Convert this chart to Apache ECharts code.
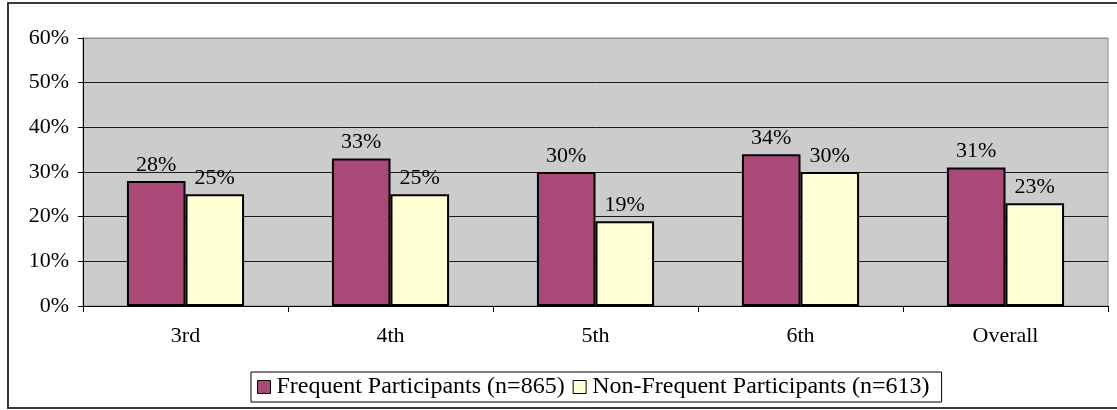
<!DOCTYPE html>
<html>
<head>
<meta charset="utf-8">
<script src="https://cdn.jsdelivr.net/npm/echarts@6/dist/echarts.min.js"></script>
<style>
  html, body { margin: 0; padding: 0; background: #ffffff; }
  #chart { width: 1117px; height: 410px; }
</style>
</head>
<body>
<div id="chart"></div>
<script>
// Share of students by grade, two participant groups (percent)
const grades = ['3rd', '4th', '5th', '6th', 'Overall'];
const frequentName = 'Frequent Participants (n=865)';
const nonFrequentName = 'Non-Frequent Participants (n=613)';
const frequentValues = [28, 33, 30, 34, 31];
const nonFrequentValues = [25, 25, 19, 30, 23];
const yTicks = { min: 0, max: 60, interval: 10 };

const FONT = 'Liberation Serif';
const textBase = { fontFamily: FONT, fontSize: 22, color: '#000' };

const chart = echarts.init(document.getElementById('chart'), null, { renderer: 'canvas' });

const barLabel = {
  show: true,
  position: 'top',
  distance: 5,
  formatter: '{c}%',
  ...textBase
};

chart.setOption({
  animation: false,
  backgroundColor: '#ffffff',
  graphic: [{
    type: 'rect',
    shape: { x: 8, y: 3, width: 1120, height: 405 },
    style: { fill: 'none', stroke: '#3a3a3a', lineWidth: 2 },
    silent: true,
    z: 100
  }],
  grid: {
    left: 83, right: 9, top: 38, bottom: 104,
    show: true,
    backgroundColor: '#cccccc',
    borderColor: '#8c8c8c',
    borderWidth: 1
  },
  legend: {
    left: 251,
    top: 372,
    orient: 'horizontal',
    padding: [2, 12, 2, 6],
    itemGap: 8,
    itemWidth: 15,
    itemHeight: 13,
    borderColor: '#000',
    borderWidth: 1,
    icon: 'path://M0,0H13V13H0Z',
    itemStyle: { borderColor: '#000', borderWidth: 1 },
    textStyle: { ...textBase, fontSize: 24, lineHeight: 26 },
    data: [frequentName, nonFrequentName]
  },
  xAxis: {
    type: 'category',
    data: grades,
    axisLine: { lineStyle: { color: '#000', width: 1 } },
    axisTick: { show: true, length: 6, lineStyle: { color: '#000' } },
    axisLabel: { margin: 19, ...textBase },
    splitLine: { show: false }
  },
  yAxis: {
    type: 'value',
    min: yTicks.min,
    max: yTicks.max,
    interval: yTicks.interval,
    axisLine: { show: true, lineStyle: { color: '#000', width: 1 } },
    axisTick: { show: true, length: 5, lineStyle: { color: '#000' } },
    axisLabel: { margin: 14, formatter: '{value}%', ...textBase },
    splitLine: {
      show: true,
      lineStyle: {
        color: ['#000', '#1a1a1a', '#1a1a1a', '#1a1a1a', '#1a1a1a', '#1a1a1a', '#8c8c8c'],
        width: 1
      }
    }
  },
  series: [
    {
      name: frequentName,
      type: 'bar',
      data: frequentValues,
      barGap: '0%',
      barCategoryGap: '42.86%',
      itemStyle: { color: '#aa4878', borderColor: '#000', borderWidth: 2 },
      label: barLabel
    },
    {
      name: nonFrequentName,
      type: 'bar',
      data: nonFrequentValues,
      barGap: '0%',
      barCategoryGap: '42.86%',
      itemStyle: { color: '#ffffd6', borderColor: '#000', borderWidth: 2 },
      label: barLabel
    }
  ]
});
</script>
</body>
</html>
